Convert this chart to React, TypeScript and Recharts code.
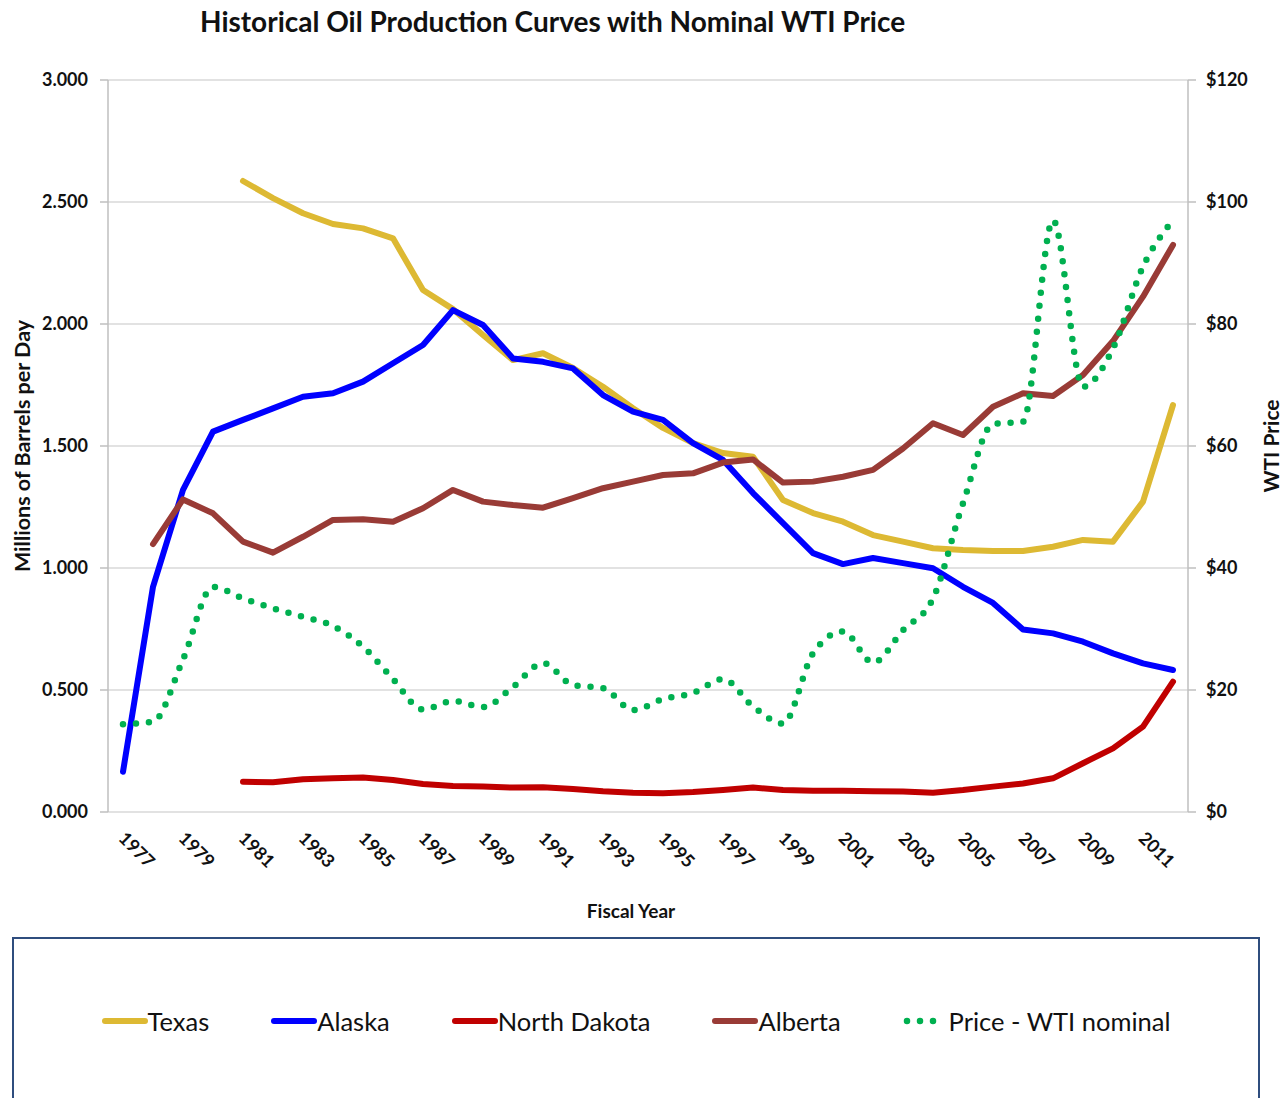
import React from 'react';
import { LineChart, Line, XAxis, YAxis, CartesianGrid, Legend } from 'recharts';

const years: number[] = [
  1977, 1978, 1979, 1980, 1981, 1982, 1983, 1984, 1985, 1986, 1987, 1988,
  1989, 1990, 1991, 1992, 1993, 1994, 1995, 1996, 1997, 1998, 1999, 2000,
  2001, 2002, 2003, 2004, 2005, 2006, 2007, 2008, 2009, 2010, 2011, 2012,
];

const texas: (number | null)[] = [
  null, null, null, null, 2.586, 2.516, 2.454, 2.41, 2.392, 2.351, 2.139, 2.061,
  1.955, 1.852, 1.88, 1.82, 1.743, 1.655, 1.574, 1.512, 1.471, 1.456, 1.279, 1.225,
  1.19, 1.135, 1.108, 1.081, 1.074, 1.07, 1.07, 1.087, 1.115, 1.108, 1.272, 1.668,
];

const alaska: (number | null)[] = [
  0.165, 0.923, 1.32, 1.559, 1.607, 1.654, 1.702, 1.716, 1.764, 1.839, 1.914, 2.057,
  1.996, 1.859, 1.845, 1.818, 1.709, 1.641, 1.607, 1.512, 1.443, 1.307, 1.184, 1.061,
  1.016, 1.041, 1.02, 0.999, 0.923, 0.857, 0.748, 0.732, 0.698, 0.65, 0.609, 0.582,
];

const northDakota: (number | null)[] = [
  null, null, null, null, 0.124, 0.122, 0.134, 0.138, 0.141, 0.131, 0.115, 0.107,
  0.104, 0.1, 0.101, 0.094, 0.085, 0.079, 0.077, 0.082, 0.09, 0.1, 0.09, 0.087,
  0.087, 0.085, 0.084, 0.079, 0.09, 0.104, 0.117, 0.138, 0.2, 0.261, 0.35, 0.534,
];

const alberta: (number | null)[] = [
  null, 1.098, 1.281, 1.224, 1.108, 1.063, 1.128, 1.197, 1.2, 1.19, 1.245, 1.32,
  1.272, 1.258, 1.247, 1.286, 1.327, 1.354, 1.381, 1.388, 1.432, 1.445, 1.35, 1.354,
  1.374, 1.402, 1.49, 1.593, 1.545, 1.661, 1.716, 1.705, 1.791, 1.93, 2.112, 2.324,
];

const wtiPrice: number[] = [
  14.4, 14.8, 25, 36.9, 35, 33.4, 32, 30.5, 27.1, 21.8, 16.8, 18.2,
  17.2, 20.5, 24.4, 20.8, 20.3, 16.7, 18.5, 19.5, 21.8, 17.3, 14.5, 26,
  29.6, 24.5, 29.8, 35, 50.6, 63.6, 64, 97, 69.7, 76, 89.4, 97,
];

const xLabelYears: number[] = [
  1977, 1979, 1981, 1983, 1985, 1987, 1989, 1991, 1993, 1995, 1997, 1999,
  2001, 2003, 2005, 2007, 2009, 2011,
];
const leftTicks: number[] = [0, 0.5, 1, 1.5, 2, 2.5, 3];
const rightTicks: number[] = [0, 20, 40, 60, 80, 100, 120];

const data = years.map((year, i) => ({
  year,
  texas: texas[i],
  alaska: alaska[i],
  northDakota: northDakota[i],
  alberta: alberta[i],
  price: wtiPrice[i],
}));

const boundaryTicks: number[] = [...years.map((y) => y - 0.5), years[years.length - 1] + 0.5];

const FONT = "Lato, 'Open Sans', sans-serif";
const TEXT = '#111111';
const AXIS = '#bfbfbf';

const series = [
  { key: 'texas', name: 'Texas', color: '#DDB933', dotted: false },
  { key: 'alaska', name: 'Alaska', color: '#0000FF', dotted: false },
  { key: 'northDakota', name: 'North Dakota', color: '#C00000', dotted: false },
  { key: 'alberta', name: 'Alberta', color: '#993B36', dotted: false },
  { key: 'price', name: 'Price - WTI nominal', color: '#00B050', dotted: true },
];

const XTick = (props: any) => {
  const { x, y, payload } = props;
  return (
    <g transform={`translate(${x - 1},${y + 23}) rotate(45)`}>
      <text x={0} y={0} dy="0.35em" textAnchor="start" fontFamily={FONT} fontSize={18} fontWeight={700} fill={TEXT}>
        {payload.value}
      </text>
    </g>
  );
};

const EmptyTick = () => <g />;

const LegendContent = () => (
  <div
    style={{
      width: '100%',
      height: '100%',
      boxSizing: 'border-box',
      border: '2px solid #2F4D7E',
      display: 'flex',
      alignItems: 'center',
      justifyContent: 'center',
      gap: 62,
      paddingBottom: 8,
      fontFamily: FONT,
      fontSize: 25.5,
      color: TEXT,
    }}
  >
    {series.map((s) => (
      <div key={s.key} style={{ display: 'flex', alignItems: 'center' }}>
        {s.dotted ? (
          <svg width={46} height={10} style={{ display: 'block' }}>
            <line x1={4} y1={5} x2={34} y2={5} stroke={s.color} strokeWidth={6.5} strokeDasharray="0 13" strokeLinecap="round" />
          </svg>
        ) : (
          <svg width={46} height={10} style={{ display: 'block' }}>
            <line x1={3} y1={5} x2={43} y2={5} stroke={s.color} strokeWidth={6} strokeLinecap="round" />
          </svg>
        )}
        <span>{s.name}</span>
      </div>
    ))}
  </div>
);

export default function App() {
  return (
    <div style={{ position: 'absolute', left: 0, top: 0, width: 1283, height: 1098, overflow: 'hidden', background: '#fff' }}>
      <div
        style={{
          position: 'absolute',
          left: 200,
          top: 0,
          height: 42,
          lineHeight: '42px',
          fontFamily: FONT,
          fontSize: 28,
          fontWeight: 700,
          color: TEXT,
          whiteSpace: 'nowrap',
        }}
      >
        Historical Oil Production Curves with Nominal WTI Price
      </div>
      <LineChart width={1283} height={1098} data={data} margin={{ top: 80, right: 0, left: 0, bottom: 176 }}>
        <CartesianGrid yAxisId="left" xAxisId={0} horizontal vertical={false} stroke="#d9d9d9" strokeWidth={1.5} />
        <XAxis
          xAxisId={0}
          dataKey="year"
          type="number"
          domain={[1976.5, 2012.5]}
          ticks={boundaryTicks}
          interval={0}
          height={0}
          tick={<EmptyTick />}
          tickSize={8}
          axisLine={{ stroke: AXIS, strokeWidth: 1.5 }}
          tickLine={{ stroke: AXIS, strokeWidth: 1.5 }}
        />
        <XAxis
          xAxisId="labels"
          dataKey="year"
          type="number"
          domain={[1976.5, 2012.5]}
          ticks={xLabelYears}
          interval={0}
          height={110}
          tickSize={0}
          tickMargin={0}
          axisLine={false}
          tickLine={false}
          tick={<XTick />}
          label={{
            content: (p: any) => {
              const vb = p.viewBox || {};
              return (
                <text
                  x={vb.x + vb.width / 2 - 17}
                  y={vb.y + 98}
                  textAnchor="middle"
                  dominantBaseline="central"
                  fontFamily={FONT}
                  fontSize={19}
                  fontWeight={700}
                  fill={TEXT}
                >
                  Fiscal Year
                </text>
              );
            },
          }}
        />
        <YAxis
          yAxisId="left"
          orientation="left"
          width={108}
          domain={[0, 3]}
          ticks={leftTicks}
          interval={0}
          tickFormatter={(v: number) => v.toFixed(3)}
          tickSize={8}
          tickMargin={12}
          axisLine={{ stroke: AXIS, strokeWidth: 1.5 }}
          tickLine={{ stroke: AXIS, strokeWidth: 1.5 }}
          tick={{ fontFamily: FONT, fontSize: 18, fontWeight: 700, fill: TEXT }}
          label={{
            content: (p: any) => {
              const vb = p.viewBox || {};
              const cx = vb.x + 22;
              const cy = vb.y + vb.height / 2;
              return (
                <text
                  x={cx}
                  y={cy}
                  transform={`rotate(-90, ${cx}, ${cy})`}
                  textAnchor="middle"
                  dominantBaseline="central"
                  fontFamily={FONT}
                  fontSize={21.5}
                  fontWeight={700}
                  fill={TEXT}
                >
                  Millions of Barrels per Day
                </text>
              );
            },
          }}
        />
        <YAxis
          yAxisId="right"
          orientation="right"
          width={95}
          domain={[0, 120]}
          ticks={rightTicks}
          interval={0}
          tickFormatter={(v: number) => `$${v}`}
          tickSize={8}
          tickMargin={10}
          axisLine={{ stroke: AXIS, strokeWidth: 1.5 }}
          tickLine={{ stroke: AXIS, strokeWidth: 1.5 }}
          tick={{ fontFamily: FONT, fontSize: 18, fontWeight: 700, fill: TEXT }}
          label={{
            content: (p: any) => {
              const vb = p.viewBox || {};
              const cx = vb.x + 82;
              const cy = vb.y + vb.height / 2;
              return (
                <text
                  x={cx}
                  y={cy}
                  transform={`rotate(-90, ${cx}, ${cy})`}
                  textAnchor="middle"
                  dominantBaseline="central"
                  fontFamily={FONT}
                  fontSize={21}
                  fontWeight={700}
                  fill={TEXT}
                >
                  WTI Price
                </text>
              );
            },
          }}
        />
        <Legend
          layout="horizontal"
          verticalAlign="middle"
          align="center"
          content={<LegendContent />}
          wrapperStyle={{ left: 12, top: 937, width: 1248, height: 175, right: 'auto', bottom: 'auto' }}
        />
        {series.map((s) => (
          <Line
            key={s.key}
            xAxisId="labels"
            yAxisId={s.dotted ? 'right' : 'left'}
            type={s.dotted ? 'monotone' : 'linear'}
            dataKey={s.key}
            name={s.name}
            stroke={s.color}
            strokeWidth={s.dotted ? 6.5 : 6}
            strokeDasharray={s.dotted ? '0 13' : undefined}
            strokeLinecap="round"
            strokeLinejoin="round"
            dot={false}
            activeDot={false}
            connectNulls={false}
            isAnimationActive={false}
          />
        ))}
      </LineChart>
    </div>
  );
}
